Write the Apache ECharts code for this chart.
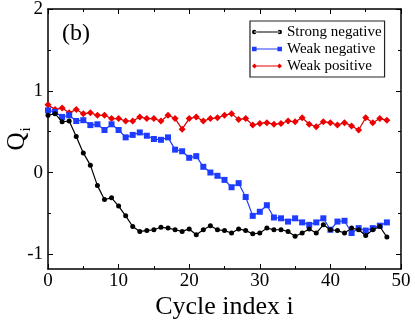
<!DOCTYPE html>
<html>
<head>
<meta charset="utf-8">
<script src="https://cdn.jsdelivr.net/npm/echarts@6/dist/echarts.min.js"></script>
<style>
  html, body { margin: 0; padding: 0; background: #fff; }
  #chart { width: 415px; height: 321px; }
</style>
</head>
<body>
<div id="chart"></div>
<script>
const cycles = [0, 1, 2, 3, 4, 5, 6, 7, 8, 9, 10, 11, 12, 13, 14, 15, 16, 17, 18, 19, 20, 21, 22, 23, 24,
  25, 26, 27, 28, 29, 30, 31, 32, 33, 34, 35, 36, 37, 38, 39, 40, 41, 42, 43, 44, 45, 46, 47, 48];

const strongNegative = [0.70, 0.72, 0.62, 0.63, 0.44, 0.24, 0.09, -0.16, -0.33, -0.31, -0.41, -0.53,
  -0.66, -0.72, -0.71, -0.70, -0.67, -0.68, -0.70, -0.72, -0.69, -0.76, -0.70, -0.65, -0.70,
  -0.71, -0.74, -0.69, -0.71, -0.75, -0.74, -0.68, -0.70, -0.70, -0.72, -0.78, -0.74, -0.69,
  -0.74, -0.64, -0.70, -0.71, -0.74, -0.68, -0.70, -0.77, -0.70, -0.66, -0.79];

const weakNegative = [0.76, 0.74, 0.68, 0.70, 0.63, 0.64, 0.58, 0.59, 0.52, 0.59, 0.52, 0.43,
  0.46, 0.49, 0.45, 0.41, 0.40, 0.43, 0.28, 0.26, 0.18, 0.20, 0.07, 0.00, -0.04,
  -0.09, -0.18, -0.13, -0.30, -0.53, -0.48, -0.40, -0.55, -0.56, -0.60, -0.56, -0.61, -0.64,
  -0.61, -0.56, -0.70, -0.60, -0.59, -0.74, -0.68, -0.71, -0.68, -0.65, -0.61];

const weakPositive = [0.83, 0.77, 0.79, 0.73, 0.77, 0.72, 0.73, 0.70, 0.70, 0.66, 0.66, 0.63,
  0.63, 0.68, 0.66, 0.66, 0.63, 0.70, 0.66, 0.53, 0.66, 0.68, 0.63, 0.66, 0.67,
  0.70, 0.72, 0.65, 0.66, 0.58, 0.60, 0.61, 0.59, 0.60, 0.63, 0.62, 0.67, 0.59,
  0.56, 0.62, 0.61, 0.58, 0.61, 0.57, 0.52, 0.67, 0.61, 0.66, 0.64];

const yMajorTicks = [-1, 0, 1, 2];
const yMinorTicks = [-0.5, 0.5, 1.5];

const serif = 'Liberation Serif, Times New Roman, serif';

const pairs = (vals) => cycles.map((c, i) => [c, vals[i]]);

const myChart = echarts.init(document.getElementById('chart'), null, { renderer: 'canvas' });

// legend icons: short line with a marker at each end
const iconCircle = 'path://M0,2.4 L30,2.4 L30,3.6 L0,3.6 Z M0,3 m-2.6,0 a2.6,2.6 0 1,0 5.2,0 a2.6,2.6 0 1,0 -5.2,0 M30,3 m-2.6,0 a2.6,2.6 0 1,0 5.2,0 a2.6,2.6 0 1,0 -5.2,0';
const iconRect = 'path://M0,2.4 L30,2.4 L30,3.6 L0,3.6 Z M-2.7,0.3 L2.7,0.3 L2.7,5.7 L-2.7,5.7 Z M27.3,0.3 L32.7,0.3 L32.7,5.7 L27.3,5.7 Z';
const iconDiamond = 'path://M0,2.4 L30,2.4 L30,3.6 L0,3.6 Z M0,0 L3,3 L0,6 L-3,3 Z M30,0 L33,3 L30,6 L27,3 Z';

const frameLine = () => ({ show: true, onZero: false, lineStyle: { color: '#000', width: 1.5 } });
const majorTick = (extra) => Object.assign({ show: true, inside: true, length: 5, lineStyle: { color: '#000', width: 1 } }, extra);

const option = {
  animation: false,
  textStyle: { fontFamily: serif },
  grid: { left: 48, right: 14, top: 9, bottom: 52, containLabel: false, outerBoundsMode: 'none' },
  graphic: [
    {
      type: 'text',
      left: 62,
      top: 22,
      style: { text: '(b)', font: '24px ' + serif, fill: '#000' }
    }
  ],
  legend: {
    left: 250,
    top: 21,
    orient: 'vertical',
    backgroundColor: '#fff',
    borderColor: '#222',
    borderWidth: 1.2,
    borderRadius: 0,
    padding: [3, 3, 3, 2],
    itemWidth: 30,
    itemHeight: 6,
    itemGap: 1,
    textStyle: { fontFamily: serif, fontSize: 15, color: '#000', lineHeight: 16 },
    data: [
      { name: 'Strong negative', icon: iconCircle },
      { name: 'Weak negative', icon: iconRect },
      { name: 'Weak positive', icon: iconDiamond }
    ]
  },
  xAxis: [
    {
      type: 'value',
      min: 0,
      max: 50,
      interval: 10,
      position: 'bottom',
      name: 'Cycle index i',
      nameLocation: 'middle',
      nameGap: 25,
      nameMoveOverlap: false,
      nameTextStyle: { fontFamily: serif, fontSize: 26, color: '#000' },
      axisLine: frameLine(),
      axisTick: majorTick({}),
      minorTick: { show: true, splitNumber: 2, length: 3, lineStyle: { color: '#000', width: 1 } },
      axisLabel: { fontFamily: serif, fontSize: 19, color: '#000', margin: 3 },
      splitLine: { show: false }
    },
    {
      type: 'value',
      min: 0,
      max: 50,
      interval: 10,
      position: 'top',
      axisLine: frameLine(),
      axisTick: majorTick({}),
      minorTick: { show: true, splitNumber: 2, length: 3, lineStyle: { color: '#000', width: 1 } },
      axisLabel: { show: false },
      splitLine: { show: false }
    }
  ],
  yAxis: [
    {
      type: 'value',
      min: -1.18,
      max: 2,
      position: 'left',
      name: '{q|Q}{s|i}',
      nameLocation: 'middle',
      nameRotate: 90,
      nameGap: 18,
      nameMoveOverlap: false,
      nameTextStyle: {
        color: '#000',
        rich: {
          q: { fontFamily: serif, fontSize: 25, color: '#000', verticalAlign: 'bottom' },
          s: { fontFamily: serif, fontSize: 15, color: '#000', verticalAlign: 'bottom', padding: [0, 0, -4, 1] }
        }
      },
      axisLine: frameLine(),
      axisTick: majorTick({ customValues: yMajorTicks }),
      axisLabel: { fontFamily: serif, fontSize: 19, color: '#000', margin: 5, customValues: yMajorTicks },
      splitLine: { show: false }
    },
    {
      type: 'value',
      min: -1.18,
      max: 2,
      position: 'right',
      axisLine: frameLine(),
      axisTick: majorTick({ customValues: yMajorTicks }),
      axisLabel: { show: false },
      splitLine: { show: false }
    },
    {
      type: 'value',
      min: -1.18,
      max: 2,
      position: 'left',
      axisLine: { show: false, onZero: false },
      axisTick: majorTick({ length: 3, customValues: yMinorTicks }),
      axisLabel: { show: false },
      splitLine: { show: false }
    },
    {
      type: 'value',
      min: -1.18,
      max: 2,
      position: 'right',
      axisLine: { show: false, onZero: false },
      axisTick: majorTick({ length: 3, customValues: yMinorTicks }),
      axisLabel: { show: false },
      splitLine: { show: false }
    }
  ],
  series: [
    {
      name: 'Strong negative',
      type: 'line',
      data: pairs(strongNegative),
      symbol: 'circle',
      symbolSize: 5,
      color: '#000',
      lineStyle: { color: '#000', width: 1.2 },
      itemStyle: { color: '#000' },
      z: 4
    },
    {
      name: 'Weak negative',
      type: 'line',
      data: pairs(weakNegative),
      symbol: 'rect',
      symbolSize: 6,
      color: '#1e3cff',
      lineStyle: { color: '#1e3cff', width: 1.2 },
      itemStyle: { color: '#1e3cff' },
      z: 3
    },
    {
      name: 'Weak positive',
      type: 'line',
      data: pairs(weakPositive),
      symbol: 'diamond',
      symbolSize: 7,
      color: '#e00000',
      lineStyle: { color: '#c80000', width: 1.2 },
      itemStyle: { color: '#ee0000' },
      z: 2
    }
  ]
};

myChart.setOption(option, true);
</script>
</body>
</html>
